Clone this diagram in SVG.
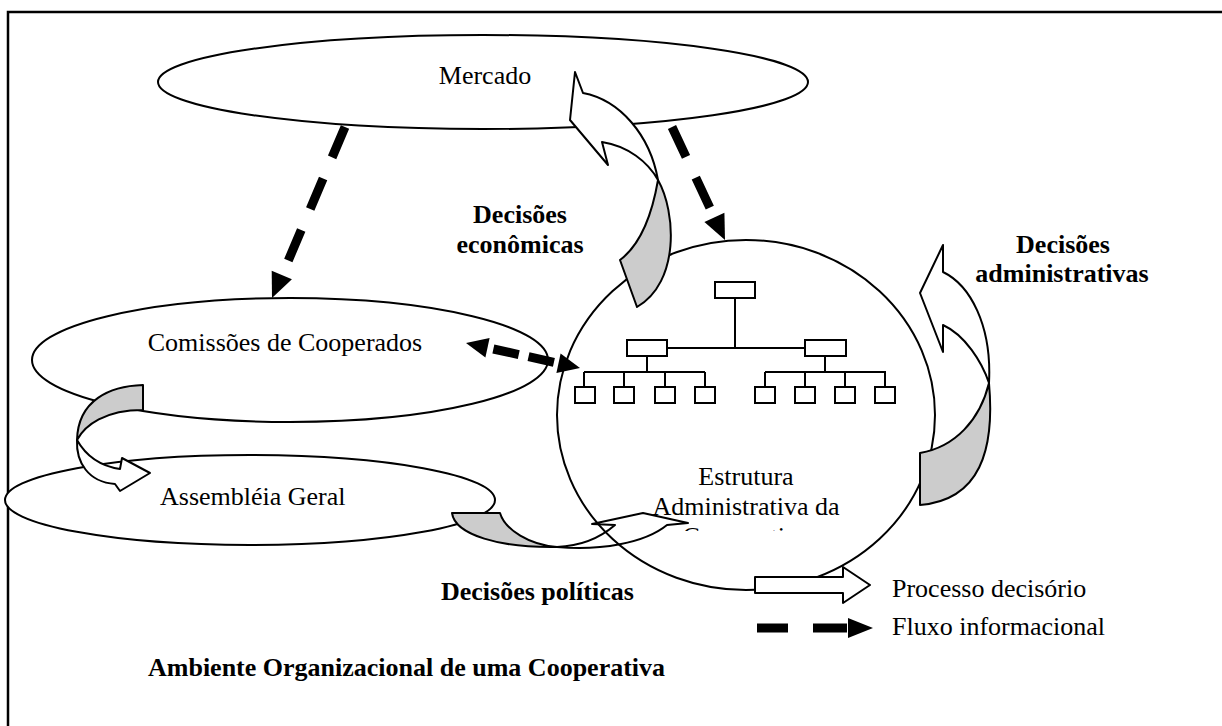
<svg xmlns="http://www.w3.org/2000/svg" width="1222" height="726" viewBox="0 0 1222 726">
<style>
  .t { font-family: "Liberation Serif", "Times New Roman", serif; font-size: 26px; fill: #000; }
  .b { font-weight: bold; }
  .shape { fill: #fff; stroke: #000; stroke-width: 2; }
  .shade { fill: #cccccc; stroke: #000; stroke-width: 2; stroke-linejoin: round; }
  .white { fill: #fff; stroke: #000; stroke-width: 2; stroke-linejoin: round; }
  .line { fill: none; stroke: #000; stroke-width: 2; }
  .dash { fill: none; stroke: #000; stroke-width: 9; }
  .head { fill: #000; stroke: none; }
</style>
<defs>
  <clipPath id="circText"><rect x="560" y="440" width="380" height="91"/></clipPath>
</defs>
<rect x="8" y="12" width="1240" height="730" fill="#fff" stroke="#000" stroke-width="2.5"/>

<g id="mercado">
  <ellipse class="shape" cx="483" cy="82" rx="325" ry="47"/>
  <text class="t" x="485" y="84" text-anchor="middle">Mercado</text>
</g>

<g id="comissoes">
  <ellipse class="shape" cx="290" cy="360" rx="258" ry="62"/>
  <text class="t" x="285" y="351" text-anchor="middle">Comissões de Cooperados</text>
</g>

<g id="assembleia">
  <ellipse class="shape" cx="250" cy="500" rx="245" ry="45"/>
  <text class="t" x="160" y="505">Assembléia Geral</text>
</g>

<g id="arrow-politicas">
  <path class="shade" d="M452,513 L500,513 C505,530 530,545 557,547 C500,548 455,535 452,513 Z"/>
  <path class="white" d="M557,547 C600,551 645,543 667,525 L688,523 L643,513 L592,524 L615,525 C600,538 580,546 557,547 Z"/>
</g>

<g id="estrutura">
  <ellipse class="line" cx="746" cy="415" rx="189" ry="175"/>
  <g id="organograma">
    <rect class="shape" x="715" y="282" width="40" height="16"/>
    <path class="line" d="M735,298 V348 M667,348 H807 M647,356 V372 M584,372 H705 M584,372 V387 M624,372 V387 M665,372 V387 M705,372 V387 M825,356 V372 M765,372 H886 M765,372 V387 M805,372 V387 M845,372 V387 M885,372 V387"/>
    <rect class="shape" x="627" y="340" width="40" height="16"/>
    <rect class="shape" x="805" y="340" width="41" height="16"/>
    <rect class="shape" x="575" y="387" width="20" height="16"/>
    <rect class="shape" x="614" y="387" width="20" height="16"/>
    <rect class="shape" x="655" y="387" width="20" height="16"/>
    <rect class="shape" x="695" y="387" width="20" height="16"/>
    <rect class="shape" x="755" y="387" width="20" height="16"/>
    <rect class="shape" x="795" y="387" width="20" height="16"/>
    <rect class="shape" x="835" y="387" width="20" height="16"/>
    <rect class="shape" x="875" y="387" width="20" height="16"/>
  </g>
  <g clip-path="url(#circText)">
    <text class="t" x="746" y="485" text-anchor="middle">Estrutura</text>
    <text class="t" x="746" y="515" text-anchor="middle">Administrativa da</text>
    <text class="t" x="746" y="545" text-anchor="middle">Cooperativa</text>
  </g>
</g>

<g id="arrow-economicas">
  <path class="white" d="M575,72 L583,93 C620,100 650,135 658,180 C648,162 628,146 602,142 L608,165 L570,120 Z"/>
  <path class="shade" d="M658,180 C676,212 680,282 637,307 L620,260 C640,245 652,215 658,180 Z"/>
</g>

<g id="arrow-administrativas">
  <path class="white" d="M943,245 L943,272 C970,285 992,325 989,383 C982,362 965,335 943,325 L943,352 L920,293 Z"/>
  <path class="shade" d="M989,383 C995,450 980,500 920,505 L920,453 C955,447 980,420 989,383 Z"/>
</g>

<g id="arrow-comissoes-assembleia">
  <path class="shade" d="M143,385 C110,386 78,400 77,440 C85,425 105,410 143,410 Z"/>
  <path class="white" d="M77,440 C76,462 88,482 115,484 L120,491 L150,473 L122,458 L120,469 C100,466 86,456 77,440 Z"/>
</g>

<g id="connectors">
  <line class="dash" x1="345" y1="127" x2="283" y2="273" stroke-dasharray="33 23"/>
  <polygon class="head" points="272,298 291.9,279.3 271.7,270.7"/>
  <line class="dash" x1="672" y1="127" x2="714.4" y2="217.4" stroke-dasharray="33 23"/>
  <polygon class="head" points="725,240 724.4,212.7 704.4,222.1"/>
  <line class="dash" x1="487.5" y1="347.7" x2="558.5" y2="363.3" stroke-dasharray="0 6 26 10 26 10"/>
  <polygon class="head" points="580,368 556.4,373.1 560.6,353.5"/>
  <polygon class="head" points="466,343 485.4,357.5 489.6,337.9"/>
</g>

<g id="labels">
  <text class="t b" x="520" y="223" text-anchor="middle">Decisões</text>
  <text class="t b" x="520" y="253" text-anchor="middle">econômicas</text>
  <text class="t b" x="1063" y="253" text-anchor="middle">Decisões</text>
  <text class="t b" x="1062" y="282" text-anchor="middle">administrativas</text>
  <text class="t b" x="441" y="600">Decisões políticas</text>
  <text class="t b" x="148" y="676">Ambiente Organizacional de uma Cooperativa</text>
</g>

<g id="legend">
  <path class="white" d="M755,577 L843,577 L843,567 L870,585 L843,603 L843,593 L755,593 Z"/>
  <text class="t" x="892" y="597">Processo decisório</text>
  <path class="dash" d="M757,628 H788 M813,628 H847"/>
  <polygon class="head" points="848,618 873,628 848,638"/>
  <text class="t" x="892" y="635">Fluxo informacional</text>
</g>
</svg>
